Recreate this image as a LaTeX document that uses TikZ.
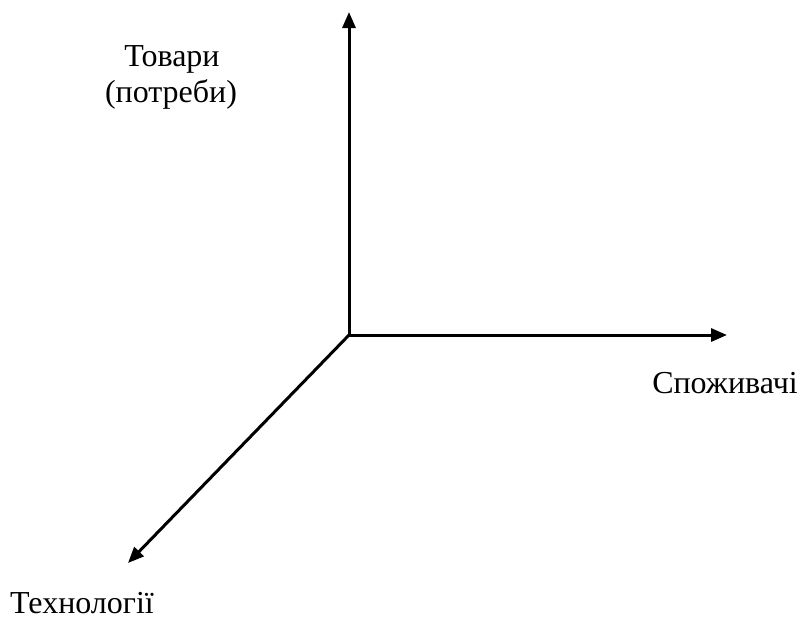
\documentclass[tikz,border=0pt]{standalone}
\usepackage{fontspec}
\setmainfont{Liberation Serif}
\usetikzlibrary{arrows.meta}
\begin{document}
\begin{tikzpicture}[x=1pt,y=-1pt,
  axis/.style={line width=3pt,-{Triangle[length=16pt,width=13pt]}},
  lbl/.style={font=\fontsize{32}{37}\selectfont,anchor=base,inner sep=0pt}]
\useasboundingbox (0,0) rectangle (802,619);
\coordinate (o) at (349,335);
\coordinate (up) at (349,12);
\coordinate (right) at (727,335);
\coordinate (diag) at (128,563);
\draw[axis] (o) -- (up);
\draw[axis] (o) -- (right);
\draw[axis] (o) -- (diag);
\node[lbl] (t1) at (172,66) {Товари};
\node[lbl] (t2) at (171,102) {(потреби)};
\node[lbl] (s) at (725,393) {Споживачі};
\node[lbl,text depth=0pt] (k) at (82,613) {Технології};
\end{tikzpicture}
\end{document}
